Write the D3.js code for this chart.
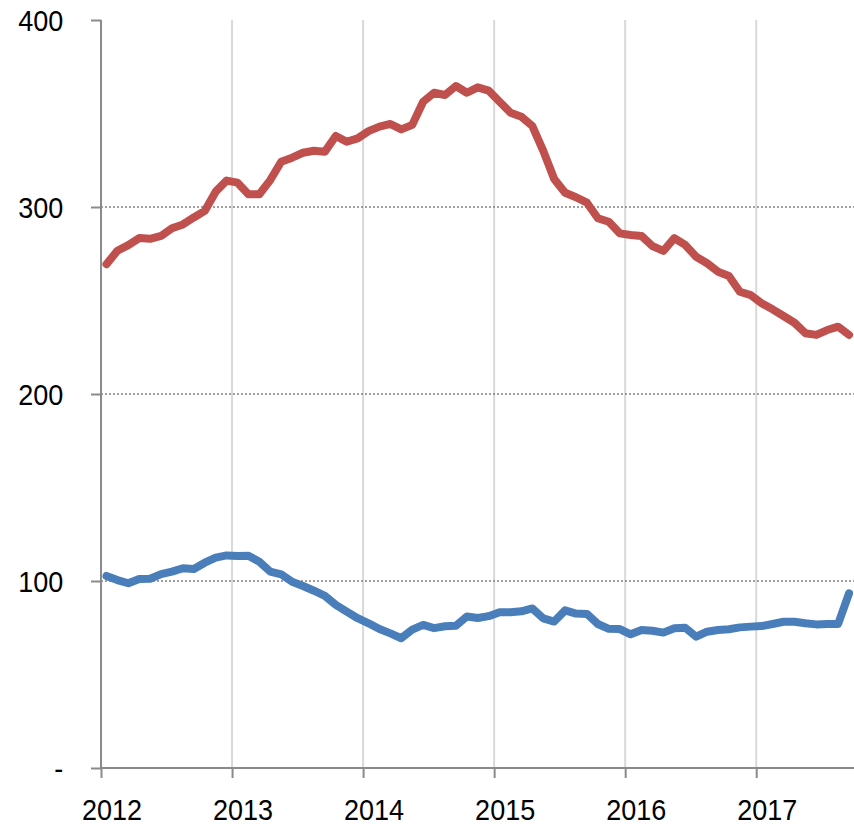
<!DOCTYPE html>
<html>
<head>
<meta charset="utf-8">
<script src="https://cdn.jsdelivr.net/npm/d3@7"></script>
<style>
  html, body { margin: 0; padding: 0; background: #fff; }
  svg { display: block; }
  .tick text { font-family: "Liberation Sans", Arial, sans-serif; fill: #000; }
</style>
</head>
<body>
<svg id="chart" width="854" height="828"></svg>
<script>
// Monthly series, Jan 2012 – Sep 2017
const startYear = 2012;
const redSeries = [
  269.4, 276.6, 279.6, 283.4, 283.0, 284.5, 288.6, 290.7, 294.4, 297.9, 308.2, 314.1,
  313.0, 306.8, 306.8, 314.4, 324.2, 326.4, 329.0, 330.1, 329.6, 338.0, 334.9, 336.7,
  340.6, 343.0, 344.4, 341.5, 343.9, 356.3, 361.1, 359.9, 364.7, 361.1, 364.0, 362.2,
  356.3, 350.4, 348.3, 343.3, 330.0, 315.0, 307.6, 305.2, 302.3, 294.0, 292.1, 285.9,
  285.0, 284.5, 279.1, 276.5, 283.3, 279.7, 273.4, 269.9, 265.4, 263.1, 254.7, 252.9,
  248.5, 245.3, 241.7, 238.1, 232.5, 231.6, 234.2, 236.0, 231.6
];
const blueSeries = [
  102.7, 100.5, 98.8, 101.1, 101.2, 103.7, 105.0, 106.8, 106.4, 109.8, 112.5, 113.7,
  113.4, 113.5, 110.3, 105.0, 103.6, 99.6, 97.3, 94.8, 92.0, 87.2, 83.6, 80.1,
  77.4, 74.3, 72.0, 69.4, 74.0, 76.5, 74.8, 75.8, 76.1, 81.0, 80.2, 81.2,
  83.3, 83.3, 83.8, 85.3, 80.0, 78.3, 84.3, 82.6, 82.4, 77.0, 74.4, 74.3,
  71.5, 73.8, 73.4, 72.4, 74.7, 75.0, 70.2, 72.9, 73.8, 74.2, 75.2, 75.6,
  75.9, 77.0, 78.2, 78.2, 77.4, 76.8, 77.0, 77.0, 93.4
];
const yearTicks = [2012, 2013, 2014, 2015, 2016, 2017];
const valueTicks = [0, 100, 200, 300, 400];
const valueTickLabels = ["-", "100", "200", "300", "400"];
const gridValues = [100, 200, 300];

const svg = d3.select("#chart");
const mLeft = 101, mRight = 854.5, mTop = 20, mBottom = 768;

const x = d3.scaleLinear().domain([2012, 2017.75]).range([mLeft, mRight]);
const y = d3.scaleLinear().domain([0, 400]).range([mBottom, mTop]);

const monthPos = i => startYear + (i + 0.5) / 12;

// vertical gridlines
svg.append("g").selectAll("line")
  .data(yearTicks.slice(1))
  .join("line")
  .attr("x1", d => x(d)).attr("x2", d => x(d))
  .attr("y1", y(400)).attr("y2", y(0))
  .attr("stroke", "#d9d9d9").attr("stroke-width", 2);

// horizontal dotted gridlines
svg.append("g").selectAll("line")
  .data(gridValues)
  .join("line")
  .attr("x1", mLeft).attr("x2", mRight)
  .attr("y1", d => y(d)).attr("y2", d => y(d))
  .attr("stroke", "#808080").attr("stroke-width", 1.5)
  .attr("stroke-dasharray", "2,2");

// axes
const yAxis = d3.axisLeft(y)
  .tickValues(valueTicks)
  .tickFormat((d, i) => valueTickLabels[i])
  .tickSize(10).tickPadding(32);
const gy = svg.append("g").attr("transform", `translate(${mLeft},0)`).call(yAxis);
gy.select(".domain").attr("stroke", "#8a8a8a").attr("stroke-width", 2)
  .attr("d", `M0,${y(400)}V${y(0)}`);
gy.selectAll(".tick line").attr("stroke", "#8a8a8a").attr("stroke-width", 2);
gy.selectAll(".tick text").style("font-size", "30px")
  .attr("transform", "scale(0.9,1)").attr("dy", "0.36em");

const xAxis = d3.axisBottom(x)
  .tickValues(yearTicks)
  .tickFormat(d3.format("d"))
  .tickSize(10).tickPadding(21);
const gx = svg.append("g").attr("transform", `translate(0,${mBottom})`).call(xAxis);
gx.select(".domain").attr("stroke", "#8a8a8a").attr("stroke-width", 2)
  .attr("d", `M${mLeft},0H${mRight}`);
gx.selectAll(".tick line").attr("stroke", "#8a8a8a").attr("stroke-width", 2);
gx.selectAll(".tick text").style("font-size", "30px")
  .attr("transform", "translate(10.5,0) scale(0.9,1)");

// lines
const line = d3.line()
  .x((d, i) => x(monthPos(i)))
  .y(d => y(d));

svg.append("path").datum(redSeries)
  .attr("d", line)
  .attr("fill", "none").attr("stroke", "#C0504D")
  .attr("stroke-width", 8).attr("stroke-linejoin", "round").attr("stroke-linecap", "round");

svg.append("path").datum(blueSeries)
  .attr("d", line)
  .attr("fill", "none").attr("stroke", "#4A7EBB")
  .attr("stroke-width", 8).attr("stroke-linejoin", "round").attr("stroke-linecap", "round");
</script>
</body>
</html>
